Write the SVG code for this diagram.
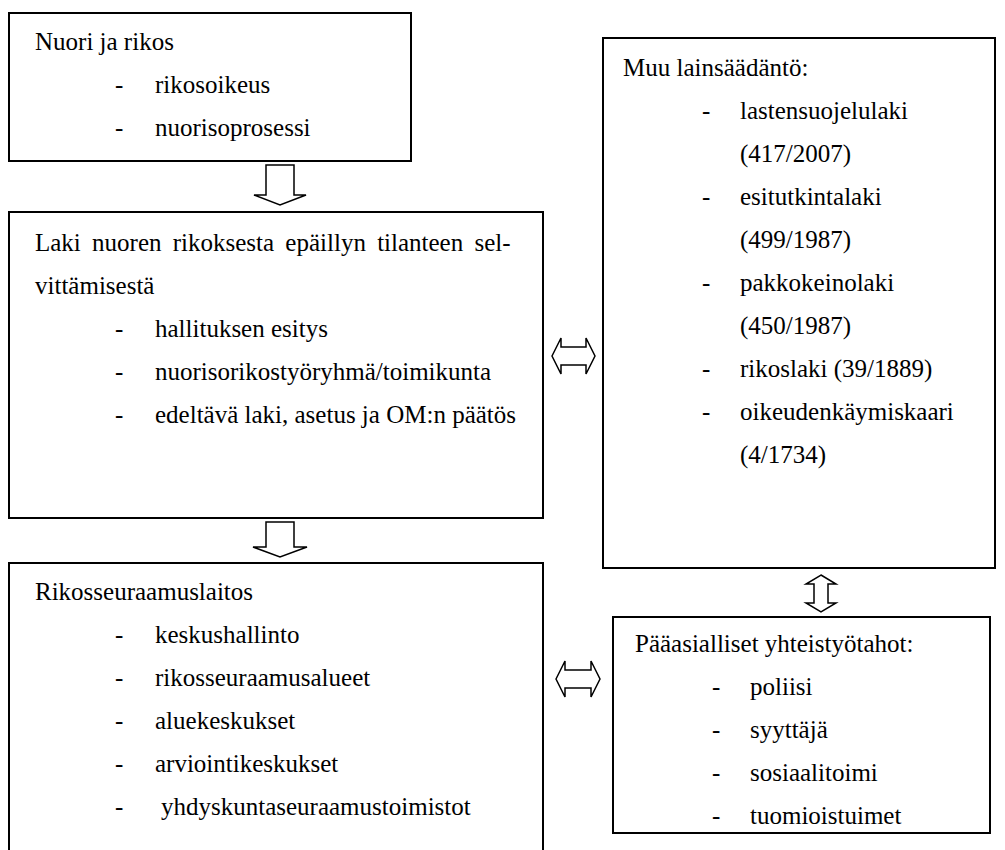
<svg xmlns="http://www.w3.org/2000/svg" width="1005" height="850" viewBox="0 0 1005 850">
<style>
.box{fill:#fff;stroke:#000;stroke-width:2}
.arr{fill:#fff;stroke:#000;stroke-width:1.5;stroke-linejoin:miter}
text{font-family:"Liberation Serif","Times New Roman",serif;font-size:25px;fill:#000}
</style>
<rect width="1005" height="850" fill="#fff"/>
<g id="n1">
<rect class="box" x="9" y="13" width="402" height="148"/>
<text x="35" y="50">Nuori ja rikos</text>
<text x="115" y="93">-</text><text x="155" y="93">rikosoikeus</text>
<text x="115" y="136">-</text><text x="155" y="136">nuorisoprosessi</text>
</g>
<g id="n2">
<rect class="box" x="9" y="212" width="534" height="306"/>
<text x="35" y="251" word-spacing="5">Laki nuoren rikoksesta epäillyn tilanteen sel-</text>
<text x="35" y="294">vittämisestä</text>
<text x="115" y="337">-</text><text x="155" y="337">hallituksen esitys</text>
<text x="115" y="380">-</text><text x="155" y="380">nuorisorikostyöryhmä/toimikunta</text>
<text x="115" y="423">-</text><text x="155" y="423">edeltävä laki, asetus ja OM:n päätös</text>
</g>
<g id="n3">
<rect class="box" x="9" y="563" width="534" height="300"/>
<text x="35" y="600">Rikosseuraamuslaitos</text>
<text x="115" y="643">-</text><text x="155" y="643">keskushallinto</text>
<text x="115" y="686">-</text><text x="155" y="686">rikosseuraamusalueet</text>
<text x="115" y="729">-</text><text x="155" y="729">aluekeskukset</text>
<text x="115" y="772">-</text><text x="155" y="772">arviointikeskukset</text>
<text x="115" y="815">-</text><text x="161" y="815">yhdyskuntaseuraamustoimistot</text>
</g>
<g id="n4">
<rect class="box" x="603" y="38" width="392" height="530"/>
<text x="623" y="76">Muu lainsäädäntö:</text>
<text x="702" y="119">-</text><text x="740" y="119">lastensuojelulaki</text>
<text x="740" y="162">(417/2007)</text>
<text x="702" y="205">-</text><text x="740" y="205">esitutkintalaki</text>
<text x="740" y="248">(499/1987)</text>
<text x="702" y="291">-</text><text x="740" y="291">pakkokeinolaki</text>
<text x="740" y="334">(450/1987)</text>
<text x="702" y="377">-</text><text x="740" y="377">rikoslaki (39/1889)</text>
<text x="702" y="420">-</text><text x="740" y="420">oikeudenkäymiskaari</text>
<text x="740" y="463">(4/1734)</text>
</g>
<g id="n5">
<rect class="box" x="613" y="617" width="377" height="216"/>
<text x="635" y="652">Pääasialliset yhteistyötahot:</text>
<text x="712" y="695">-</text><text x="750" y="695">poliisi</text>
<text x="712" y="738">-</text><text x="750" y="738">syyttäjä</text>
<text x="712" y="781">-</text><text x="750" y="781">sosiaalitoimi</text>
<text x="712" y="824">-</text><text x="750" y="824">tuomioistuimet</text>
</g>
<g id="connectors">
<polygon class="arr" points="266,165 294,165 294,195 306,195 280,205 254,195 266,195"/>
<polygon class="arr" points="266,522 294,522 294,547 307,547 280,557 253,547 266,547"/>
<polygon class="arr" points="552,356 561,338 561,347 586,347 586,338 595,356 586,374 586,365 561,365 561,374"/>
<polygon class="arr" points="556,679 565,661 565,670 591,670 591,661 600,679 591,697 591,688 565,688 565,697"/>
<polygon class="arr" points="821,575 836,584 828,584 828,603 836,603 821,612 806,603 814,603 814,584 806,584"/>
</g>
</svg>
